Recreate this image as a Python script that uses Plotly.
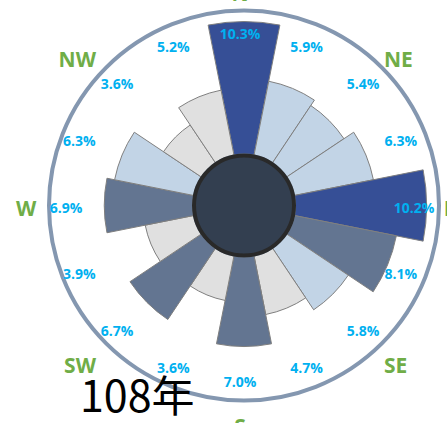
import plotly.graph_objects as go

# wind rose data (percent frequency per direction, 16 sectors clockwise from N)
directions = ['N', 'NNE', 'NE', 'ENE', 'E', 'ESE', 'SE', 'SSE',
              'S', 'SSW', 'SW', 'WSW', 'W', 'WNW', 'NW', 'NNW']
freq = [10.3, 5.9, 5.4, 6.3, 10.2, 8.1, 5.8, 4.7,
        7.0, 3.6, 6.7, 3.9, 6.9, 6.3, 3.6, 5.2]
compass_labels = ['N', 'NE', 'E', 'SE', 'S', 'SW', 'W', 'NW']
year_label = '108年'

angles = [i * 22.5 for i in range(len(directions))]


def bar_color(v):
    if v >= 10:
        return '#364f96'
    if v >= 6.5:
        return '#637591'
    if v >= 5.3:
        return '#c2d4e6'
    return '#e0e0e0'


colors = [bar_color(v) for v in freq]

W, H = 447, 423
# main rose (bars + outer ring)
cx, cy, R = 244, 205.5, 195
hole_px = 50
rmax = 11.15
# label layer (slightly offset centre, like the original)
lx, ly, LR = 240, 209, 190
label_r = 174


def dom(x, y, r):
    return dict(x=[(x - r) / W, (x + r) / W], y=[1 - (y + r) / H, 1 - (y - r) / H])


fig = go.Figure()
fig.add_trace(go.Barpolar(
    r=freq, theta=angles, width=[22.5] * len(freq),
    marker=dict(color=colors, line=dict(color='#7f7f7f', width=1)),
    hoverinfo='skip', showlegend=False, subplot='polar',
))
fig.add_trace(go.Scatterpolar(
    r=[label_r] * len(freq), theta=angles, mode='text',
    text=[f'{v:.1f}%' for v in freq],
    textfont=dict(family='Open Sans', size=14, color='#00b0f0', weight='bold'),
    cliponaxis=False, hoverinfo='skip', showlegend=False, subplot='polar2',
))

fig.update_layout(
    width=W, height=H,
    margin=dict(l=0, r=0, t=0, b=0),
    paper_bgcolor='white', plot_bgcolor='white',
    polar=dict(
        domain=dom(cx, cy, R),
        hole=hole_px / R,
        bgcolor='rgba(0,0,0,0)',
        radialaxis=dict(range=[0, rmax], visible=False),
        angularaxis=dict(
            rotation=90, direction='clockwise',
            showticklabels=False, ticks='',
            showgrid=False, showline=True, linecolor='#8497b0', linewidth=4,
        ),
    ),
    polar2=dict(
        domain=dom(lx, ly, LR),
        bgcolor='rgba(0,0,0,0)',
        radialaxis=dict(range=[0, LR], visible=False),
        angularaxis=dict(
            rotation=90, direction='clockwise',
            tickmode='array', tickvals=[i * 45 for i in range(8)],
            ticktext=compass_labels,
            tickfont=dict(family='Open Sans', size=21, color='#70ad47', weight='bold'),
            ticks='outside', ticklen=9, tickcolor='rgba(0,0,0,0)',
            showgrid=False, showline=False,
        ),
    ),
    shapes=[dict(
        type='circle', xref='paper', yref='paper', layer='above',
        x0=(cx - hole_px) / W, x1=(cx + hole_px) / W,
        y0=1 - (cy + hole_px) / H, y1=1 - (cy - hole_px) / H,
        fillcolor='#333f50', line=dict(color='#292929', width=4),
    )],
    annotations=[dict(
        text=year_label, x=137 / W, y=1 - 393 / H, xref='paper', yref='paper',
        xanchor='center', yanchor='middle',
        showarrow=False, font=dict(family='Noto Sans CJK TC', size=43, color='black'),
    )],
)

fig.write_html('out.html', config={'displayModeBar': False},
               post_script="document.body.style.margin='0';")
